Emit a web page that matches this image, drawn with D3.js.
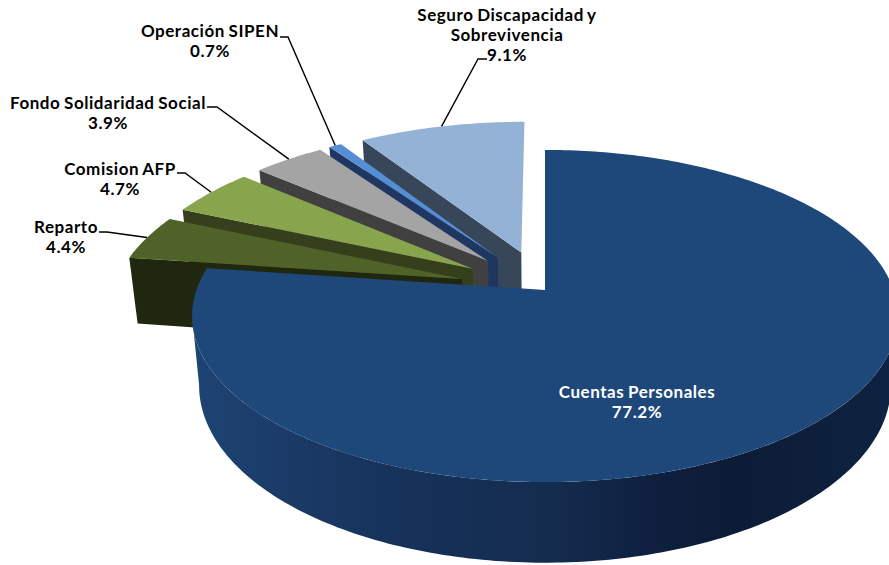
<!DOCTYPE html>
<html>
<head>
<meta charset="utf-8">
<script src="https://cdnjs.cloudflare.com/ajax/libs/d3/7.8.5/d3.min.js"></script>
<style>
  html, body { margin: 0; padding: 0; background: #fff; }
  svg { display: block; }
  text { font-family: Lato, "Open Sans", sans-serif; font-weight: 700; font-size: 17px; letter-spacing: 0.55px; word-spacing: -1px; text-anchor: middle; }
</style>
</head>
<body>
<svg id="chart" width="889" height="565"></svg>
<script>
const categories = ["Cuentas Personales", "Reparto", "Comision AFP", "Fondo Solidaridad Social", "Operación SIPEN", "Seguro Discapacidad y Sobrevivencia"];
const shares = [77.2, 4.4, 4.7, 3.9, 0.7, 9.1];
const shareLabels = ["77.2%", "4.4%", "4.7%", "3.9%", "0.7%", "9.1%"];
const topColors = ["#1e477a", "#4f6228", "#88a44c", "#a4a4a4", "#558ed5", "#94b2d6"];
const wallColors = ["#1e477a", "#1f270f", "#363f1c", "#404040", "#1f3661", "#384659"];

const svg = d3.select("#chart");

// perspective of the 3d pie, fitted on the main slice
const cx = 545, cy = 290;
const persp = 0.1566, scaleX = 348.6, scaleY = 162;
const depth = 68, bottomShrink = 0.98;
const explode = 0.25;

const pieData = d3.pie().sort(null).value(d => d)(shares);
const color = d3.scaleOrdinal().domain(categories).range(topColors);
const wall = d3.scaleOrdinal().domain(categories).range(wallColors);
const line = d3.line().x(d => d[0]).y(d => d[1]);

function project(X, Z, bottom) {
  const w = 1 - persp * Z;
  let x = X * scaleX / w;
  let y = Z * scaleY / w;
  if (bottom) {
    x = x * bottomShrink;
    y = y + depth / w;
  }
  return [cx + x, cy + y];
}

// offset of a slice along its bisector
function offset(d, i) {
  if (i === 0) return [0, 0];
  const mid = (d.startAngle + d.endAngle) / 2;
  return [explode * Math.sin(mid), -explode * Math.cos(mid)];
}

function rimPoint(d, i, angle, bottom) {
  const o = offset(d, i);
  return project(o[0] + Math.sin(angle), o[1] - Math.cos(angle), bottom);
}

function arcPoints(d, i, a0, a1, bottom) {
  const n = Math.max(4, Math.ceil(Math.abs(a1 - a0) * 60));
  return d3.range(n + 1).map(k => rimPoint(d, i, a0 + (a1 - a0) * k / n, bottom));
}

// angle where the rim reaches its outermost x, so the side wall ends on the silhouette
function extremeAngle(d, i, a0, a1, bottom, sign) {
  const angles = d3.range(200).map(k => a0 + (a1 - a0) * k / 199);
  return d3.greatest(angles, a => sign * rimPoint(d, i, a, bottom)[0]);
}

const defs = svg.append("defs");
const grad = defs.append("linearGradient")
  .attr("id", "mainWall")
  .attr("gradientUnits", "userSpaceOnUse")
  .attr("x1", 190).attr("x2", 890).attr("y1", 0).attr("y2", 0);
[[0, "#1e4474"], [0.15, "#1a3a66"], [0.3, "#16325a"], [0.52, "#142c4e"], [0.65, "#0f2040"], [0.78, "#0c1c36"], [1, "#0e2241"]]
  .forEach(s => grad.append("stop").attr("offset", s[0]).attr("stop-color", s[1]));

// far slices first, main slice last
const order = d3.range(pieData.length).reverse();
const slices = svg.append("g").attr("class", "slices");

order.forEach(i => {
  const d = pieData[i];
  const o = offset(d, i);
  const name = categories[i];
  const g = slices.append("g");

  if (i === 0) {
    const topR = extremeAngle(d, i, 0, Math.PI, false, 1);
    const topL = extremeAngle(d, i, Math.PI, d.endAngle, false, -1);
    const botR = extremeAngle(d, i, 0, Math.PI, true, 1);
    const botL = extremeAngle(d, i, Math.PI, d.endAngle, true, -1);
    const side = arcPoints(d, i, topR, topL, false)
      .concat(arcPoints(d, i, botL, botR, true));
    g.append("path").attr("d", line(side) + "Z").attr("fill", "url(#mainWall)");
  } else {
    const side = [
      project(o[0], o[1], false),
      rimPoint(d, i, d.startAngle, false),
      rimPoint(d, i, d.startAngle, true),
      project(o[0], o[1], true)
    ];
    g.append("path").attr("d", line(side) + "Z").attr("fill", wall(name));
  }

  const face = [project(o[0], o[1], false)].concat(arcPoints(d, i, d.startAngle, d.endAngle, false));
  g.append("path").attr("d", line(face) + "Z").attr("fill", color(name));
});

// leader lines run from the elbow beside the label to the middle of the rim
const leaders = [null, [[99, 232], [107, 232]], [[177, 173], [185, 173]], [[207, 107], [217, 107]], [[280, 37], [288, 37]], [[487, 59], [478, 59]]];
leaders.forEach((pts, i) => {
  if (!pts) return;
  const d = pieData[i];
  const end = rimPoint(d, i, (d.startAngle + d.endAngle) / 2, false);
  svg.append("path")
    .attr("d", line(pts.concat([end])))
    .attr("fill", "none")
    .attr("stroke", "#000")
    .attr("stroke-width", 1.4);
});

const labelLines = [
  ["Cuentas Personales", shareLabels[0]],
  ["Reparto", shareLabels[1]],
  ["Comision AFP", shareLabels[2]],
  ["Fondo Solidaridad Social", shareLabels[3]],
  ["Operación SIPEN", shareLabels[4]],
  ["Seguro Discapacidad y", "Sobrevivencia", shareLabels[5]]
];
const labelX = [637, 66, 120, 108, 210, 507];
const labelY = [398, 233, 175, 109, 37, 21];

labelLines.forEach((rows, i) => {
  const t = svg.append("text").attr("fill", i === 0 ? "#fff" : "#000");
  rows.forEach((r, k) => {
    t.append("tspan").attr("x", labelX[i]).attr("y", labelY[i] + k * 20.2).text(r);
  });
});
</script>
</body>
</html>
